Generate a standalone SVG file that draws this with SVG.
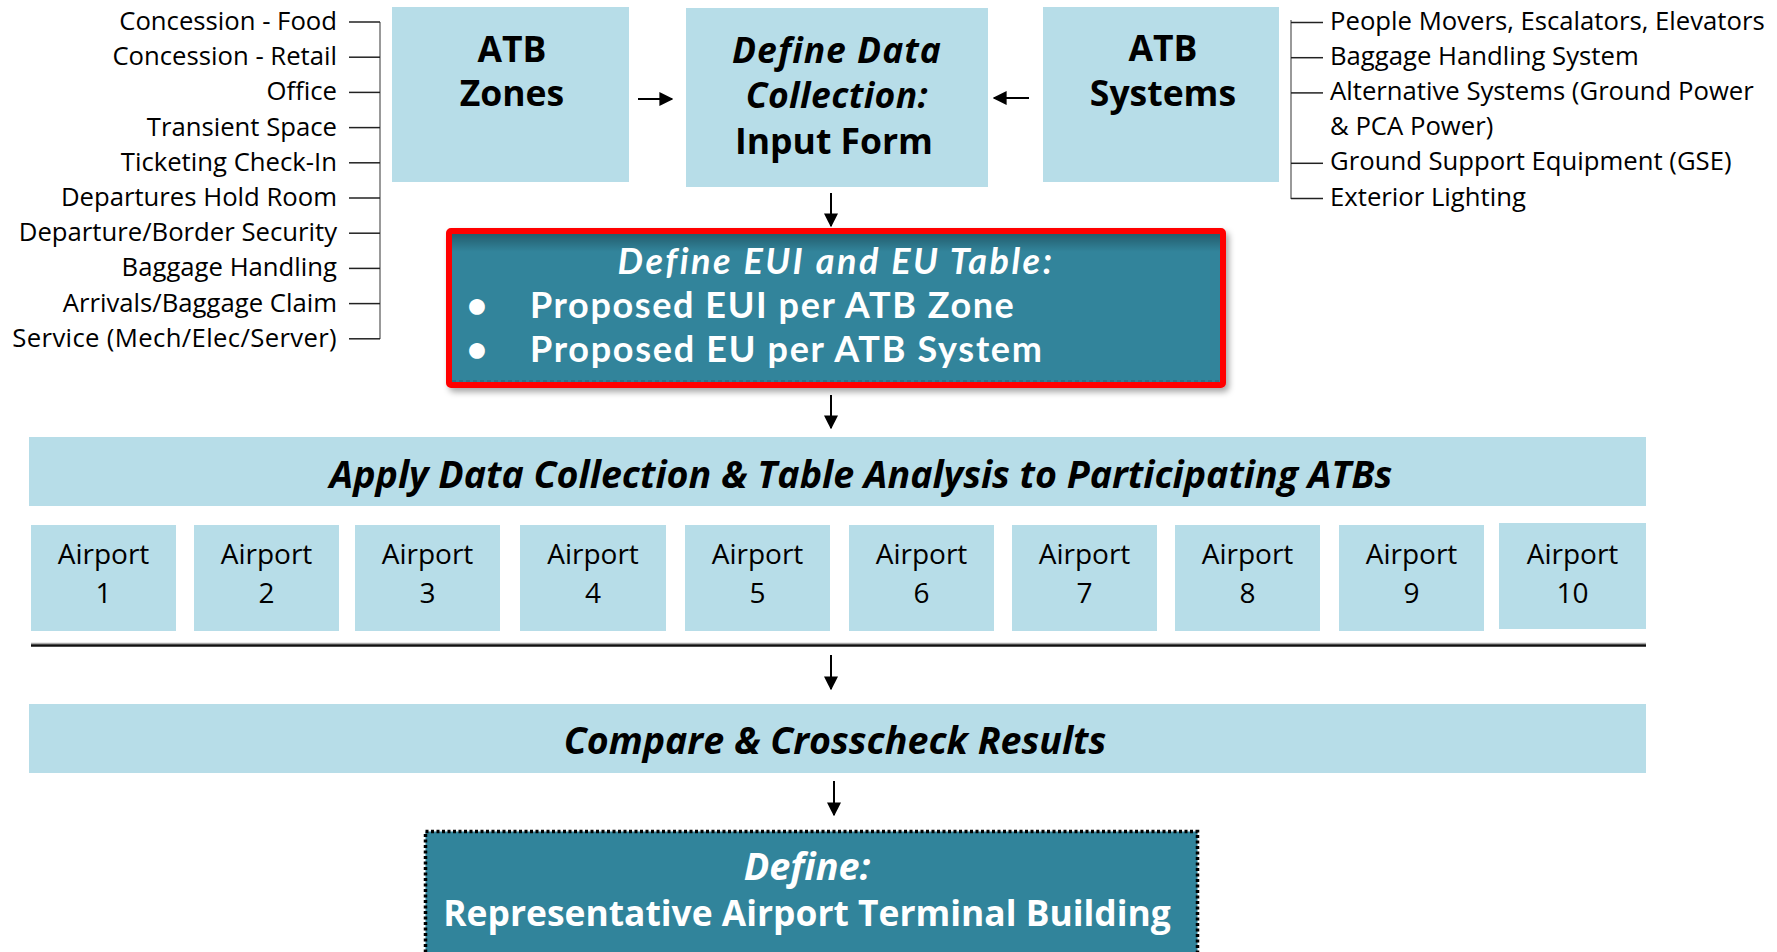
<svg xmlns="http://www.w3.org/2000/svg" width="1777" height="952" viewBox="0 0 1777 952">
  <defs>
    <style>
      .lbl { font-family: "Open Sans", "Noto Sans", sans-serif; font-size: 25.7px; fill: #000; }
      .box { fill: #B7DDE8; }
      .teal { fill: #31849B; }
      .head { font-family: "Open Sans", "Noto Sans", sans-serif; font-weight: bold; font-size: 35.5px; fill: #000; text-anchor: middle; }
      .band { font-family: "Open Sans", "Noto Sans", sans-serif; font-weight: bold; font-style: italic; font-size: 37.6px; fill: #000; text-anchor: middle; }
      .ap { font-family: "Open Sans", "Noto Sans", sans-serif; font-size: 28px; fill: #000; text-anchor: middle; }
      .wt { font-family: "Open Sans", "Noto Sans", sans-serif; fill: #fff; }
      .eui { font-family: Lato, "Open Sans", sans-serif; fill: #fff; font-weight: bold; font-size: 36px; }
      .tick { stroke: #222; stroke-width: 1.5; }
      .brk { stroke: #999; stroke-width: 2; }
      .conn { stroke: #000; stroke-width: 2; fill: none; marker-end: url(#arr); }
    </style>
    <marker id="arr" viewBox="0 0 10 10" refX="9" refY="5" markerWidth="7" markerHeight="7" orient="auto" markerUnits="strokeWidth">
      <path d="M0,0 L10,5 L0,10 z" fill="#000"/>
    </marker>
    <filter id="shadow" x="-5%" y="-10%" width="115%" height="130%">
      <feDropShadow dx="3" dy="4" stdDeviation="3" flood-color="#000" flood-opacity="0.35"/>
    </filter>
    <linearGradient id="innerTop" x1="0" y1="0" x2="0" y2="1">
      <stop offset="0" stop-color="#000" stop-opacity="0.3"/>
      <stop offset="0.12" stop-color="#000" stop-opacity="0"/>
    </linearGradient>
  </defs>

  <!-- zone list on the left -->
  <g id="zone-list">
    <line class="brk" x1="380" y1="22" x2="380" y2="339"/>
    <g class="tick-set">
      <line class="tick" x1="349" y1="22" x2="380" y2="22"/>
      <line class="tick" x1="349" y1="57.2" x2="380" y2="57.2"/>
      <line class="tick" x1="349" y1="92.4" x2="380" y2="92.4"/>
      <line class="tick" x1="349" y1="127.6" x2="380" y2="127.6"/>
      <line class="tick" x1="349" y1="162.8" x2="380" y2="162.8"/>
      <line class="tick" x1="349" y1="198" x2="380" y2="198"/>
      <line class="tick" x1="349" y1="233.2" x2="380" y2="233.2"/>
      <line class="tick" x1="349" y1="268.4" x2="380" y2="268.4"/>
      <line class="tick" x1="349" y1="303.6" x2="380" y2="303.6"/>
      <line class="tick" x1="349" y1="338.8" x2="380" y2="338.8"/>
    </g>
    <g class="lbl" text-anchor="end">
      <text x="337" y="30">Concession - Food</text>
      <text x="337" y="65.2">Concession - Retail</text>
      <text x="337" y="100.4">Office</text>
      <text x="337" y="135.6">Transient Space</text>
      <text x="337" y="170.8">Ticketing Check-In</text>
      <text x="337" y="206">Departures Hold Room</text>
      <text x="337" y="241.2">Departure/Border Security</text>
      <text x="337" y="276.4">Baggage Handling</text>
      <text x="337" y="311.6">Arrivals/Baggage Claim</text>
      <text x="337" y="346.8" letter-spacing="0.35">Service (Mech/Elec/Server)</text>
    </g>
  </g>

  <!-- system list on the right -->
  <g id="system-list">
    <line class="brk" x1="1291" y1="20" x2="1291" y2="199"/>
    <line class="tick" x1="1291" y1="22.5" x2="1323" y2="22.5"/>
    <line class="tick" x1="1291" y1="57.7" x2="1323" y2="57.7"/>
    <line class="tick" x1="1291" y1="92.9" x2="1323" y2="92.9"/>
    <line class="tick" x1="1291" y1="163.3" x2="1323" y2="163.3"/>
    <line class="tick" x1="1291" y1="198.5" x2="1323" y2="198.5"/>
    <g class="lbl">
      <text x="1330" y="29.5">People Movers, Escalators, Elevators</text>
      <text x="1330" y="64.7">Baggage Handling System</text>
      <text x="1330" y="99.9">Alternative Systems (Ground Power</text>
      <text x="1330" y="135.1">&amp; PCA Power)</text>
      <text x="1330" y="170.3">Ground Support Equipment (GSE)</text>
      <text x="1330" y="205.5">Exterior Lighting</text>
    </g>
  </g>

  <g id="atb-zones">
    <rect class="box" x="392" y="7" width="237" height="175"/>
    <text class="head" x="512" y="62">ATB</text>
    <text class="head" x="512" y="106">Zones</text>
  </g>

  <g id="input-form">
    <rect class="box" x="686" y="8" width="302" height="179"/>
    <text class="head" x="837" y="63" font-style="italic" font-size="37.5" letter-spacing="1">Define Data</text>
    <text class="head" x="837" y="108" font-style="italic" font-size="37.5" letter-spacing="0.4">Collection:</text>
    <text class="head" x="834" y="154">Input Form</text>
  </g>

  <g id="atb-systems">
    <rect class="box" x="1043" y="7" width="236" height="175"/>
    <text class="head" x="1163" y="61">ATB</text>
    <text class="head" x="1163" y="106">Systems</text>
  </g>

  <g id="eui-table">
    <g filter="url(#shadow)">
      <rect x="449" y="231" width="774" height="154" fill="#31849B" stroke="#FF0000" stroke-width="6" rx="2"/>
    </g>
    <rect x="452" y="234" width="768" height="148" fill="url(#innerTop)"/>
    <line x1="452" y1="381" x2="1220" y2="381" stroke="#1d4f5c" stroke-width="1" stroke-dasharray="4 3" opacity="0.6"/>
    <text class="eui" x="836" y="274" font-style="italic" letter-spacing="2.5" text-anchor="middle">Define EUI and EU Table:</text>
    <text class="eui" x="477" y="318" font-size="28" text-anchor="middle">•</text>
    <text class="eui" x="530" y="318" letter-spacing="1.6">Proposed EUI per ATB Zone</text>
    <text class="eui" x="477" y="362" font-size="28" text-anchor="middle">•</text>
    <text class="eui" x="530" y="362" letter-spacing="1.7">Proposed EU per ATB System</text>
  </g>

  <g id="apply-band">
    <rect class="box" x="29" y="437" width="1617" height="69"/>
    <text class="band" x="861" y="488">Apply Data Collection &amp; Table Analysis to Participating ATBs</text>
  </g>

  <g id="airports">
    <g id="airport-1"><rect class="box" x="31" y="525" width="145" height="106"/><text class="ap" x="103.5" y="564">Airport</text><text class="ap" x="103.5" y="603">1</text></g>
    <g id="airport-2"><rect class="box" x="194" y="525" width="145" height="106"/><text class="ap" x="266.5" y="564">Airport</text><text class="ap" x="266.5" y="603">2</text></g>
    <g id="airport-3"><rect class="box" x="355" y="525" width="145" height="106"/><text class="ap" x="427.5" y="564">Airport</text><text class="ap" x="427.5" y="603">3</text></g>
    <g id="airport-4"><rect class="box" x="520" y="525" width="146" height="106"/><text class="ap" x="593" y="564">Airport</text><text class="ap" x="593" y="603">4</text></g>
    <g id="airport-5"><rect class="box" x="685" y="525" width="145" height="106"/><text class="ap" x="757.5" y="564">Airport</text><text class="ap" x="757.5" y="603">5</text></g>
    <g id="airport-6"><rect class="box" x="849" y="525" width="145" height="106"/><text class="ap" x="921.5" y="564">Airport</text><text class="ap" x="921.5" y="603">6</text></g>
    <g id="airport-7"><rect class="box" x="1012" y="525" width="145" height="106"/><text class="ap" x="1084.5" y="564">Airport</text><text class="ap" x="1084.5" y="603">7</text></g>
    <g id="airport-8"><rect class="box" x="1175" y="525" width="145" height="106"/><text class="ap" x="1247.5" y="564">Airport</text><text class="ap" x="1247.5" y="603">8</text></g>
    <g id="airport-9"><rect class="box" x="1339" y="525" width="145" height="106"/><text class="ap" x="1411.5" y="564">Airport</text><text class="ap" x="1411.5" y="603">9</text></g>
    <g id="airport-10"><rect class="box" x="1499" y="523" width="147" height="106"/><text class="ap" x="1572.5" y="564">Airport</text><text class="ap" x="1572.5" y="603">10</text></g>
  </g>

  <g id="divider">
    <line x1="31" y1="643.5" x2="1646" y2="643.5" stroke="#aaa" stroke-width="1.5"/>
    <line x1="31" y1="645.5" x2="1646" y2="645.5" stroke="#111" stroke-width="2.5"/>
  </g>

  <g id="compare-band">
    <rect class="box" x="29" y="704" width="1617" height="69"/>
    <text class="band" x="835" y="754">Compare &amp; Crosscheck Results</text>
  </g>

  <g id="representative-atb">
    <rect class="teal" x="425.5" y="831.5" width="772" height="130" stroke="#000" stroke-width="3.5" stroke-dasharray="3 2.5"/>
    <text class="wt" x="807" y="880" font-size="37.8" font-style="italic" font-weight="bold" text-anchor="middle">Define:</text>
    <text class="wt" x="807" y="926" font-size="35.4" font-weight="bold" text-anchor="middle">Representative Airport Terminal Building</text>
  </g>

  <g id="connectors">
    <line class="conn" x1="638" y1="99" x2="672" y2="99"/>
    <line class="conn" x1="1029" y1="98" x2="994" y2="98"/>
    <line class="conn" x1="831" y1="193" x2="831" y2="226"/>
    <line class="conn" x1="831" y1="395" x2="831" y2="428"/>
    <line class="conn" x1="831" y1="655" x2="831" y2="689"/>
    <line class="conn" x1="834" y1="781" x2="834" y2="815"/>
  </g>
</svg>
